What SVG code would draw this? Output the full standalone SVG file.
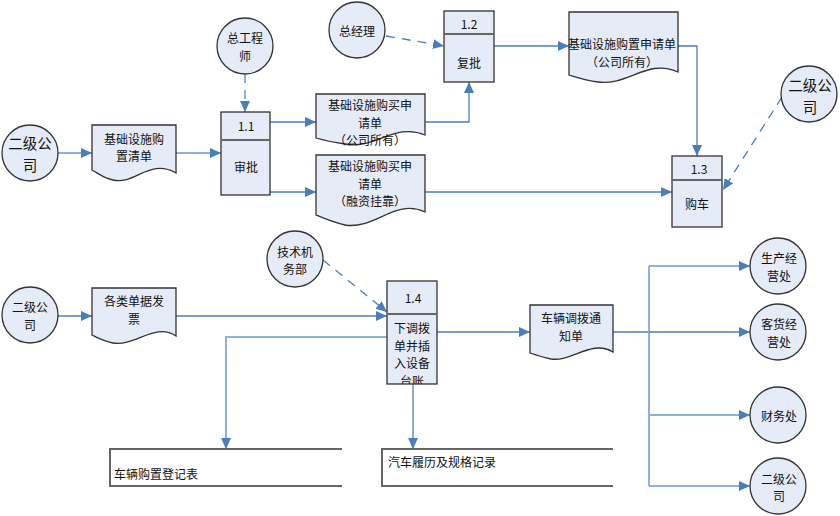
<svg xmlns="http://www.w3.org/2000/svg" width="840" height="516" viewBox="0 0 840 516">
<defs>
<style>
text{font-family:"SimSun","Noto Sans CJK SC","Liberation Sans",sans-serif;font-size:12px;fill:#111;text-anchor:middle;dominant-baseline:central}
.big{font-size:14.5px}
.shape{fill:#E6ECF7;stroke:#333;stroke-width:1.3}
.div{stroke:#666;stroke-width:2}
.ln{fill:none;stroke:#4A7EBB;stroke-width:1.3}
.lt{fill:none;stroke:#8DB0DD;stroke-width:2}
.ds{stroke-dasharray:9 7}
.store{fill:none;stroke:#666;stroke-width:2}
.lft{text-anchor:start}
</style>
<marker id="a" markerUnits="userSpaceOnUse" markerWidth="12" markerHeight="10" refX="11" refY="5" orient="auto">
<path d="M0,0 L11,5 L0,10 Z" fill="#4A7EBB"/>
</marker>
<clipPath id="c14"><rect x="387" y="315" width="50" height="69"/></clipPath>
</defs>

<g id="connectors">
<path class="lt" d="M58,153 H92" marker-end="url(#a)"/>
<path class="lt" d="M176,153 H221" marker-end="url(#a)"/>
<path class="lt ds" d="M245,74 V112" marker-end="url(#a)"/>
<path class="ln" d="M270,122 H316" marker-end="url(#a)"/>
<path class="ln" d="M270,192 H316" marker-end="url(#a)"/>
<path class="ln" d="M425,122 H469 V82" marker-end="url(#a)"/>
<path class="ln ds" d="M386,36 L444,46" marker-end="url(#a)"/>
<path class="ln" d="M494,46 H569" marker-end="url(#a)"/>
<path class="ln" d="M678,46 H697 V156" marker-end="url(#a)"/>
<path class="ln" d="M425,192 H672" marker-end="url(#a)"/>
<path class="ln ds" d="M782,97 L723,190" marker-end="url(#a)"/>
<path class="ln" d="M58,316 H92" marker-end="url(#a)"/>
<path class="ln" d="M176,316 H387" marker-end="url(#a)"/>
<path class="ln ds" d="M323,260 L387,312" marker-end="url(#a)"/>
<path class="lt" d="M387,337 H226 V449" marker-end="url(#a)"/>
<path class="ln" d="M413,384 V449" marker-end="url(#a)"/>
<path class="ln" d="M437,332 H530" marker-end="url(#a)"/>
<path class="ln" d="M613,332 H649"/>
<path class="lt" d="M649,266 V486"/>
<path class="lt" d="M649,266 H750" marker-end="url(#a)"/>
<path class="ln" d="M649,332 H750" marker-end="url(#a)"/>
<path class="lt" d="M649,415 H750" marker-end="url(#a)"/>
<path class="lt" d="M649,486 H750" marker-end="url(#a)"/>
</g>

<g id="ext-erji-1"><circle class="shape" cx="30" cy="153" r="28"/><text class="big"><tspan x="30" y="142">二级公</tspan><tspan x="30" y="163.5">司</tspan></text></g>
<g id="ext-zonggongchengshi"><circle class="shape" cx="245" cy="46" r="28"/><text><tspan x="245" y="37">总工程</tspan><tspan x="245" y="54.5">师</tspan></text></g>
<g id="ext-zongjingli"><circle class="shape" cx="357" cy="30" r="28"/><text x="357" y="30">总经理</text></g>
<g id="ext-erji-2"><circle class="shape" cx="809" cy="94" r="28"/><text class="big"><tspan x="810" y="84">二级公</tspan><tspan x="810" y="105.5">司</tspan></text></g>
<g id="ext-erji-3"><circle class="shape" cx="30" cy="315" r="28"/><text><tspan x="30" y="306">二级公</tspan><tspan x="30" y="324">司</tspan></text></g>
<g id="ext-jishu"><circle class="shape" cx="295" cy="259" r="28"/><text><tspan x="295" y="250.5">技术机</tspan><tspan x="295" y="268">务部</tspan></text></g>
<g id="ext-shengchan"><circle class="shape" cx="778" cy="266" r="28"/><text><tspan x="779" y="257">生产经</tspan><tspan x="779" y="274.5">营处</tspan></text></g>
<g id="ext-kehuo"><circle class="shape" cx="778" cy="332" r="28"/><text><tspan x="779" y="323">客货经</tspan><tspan x="779" y="340.5">营处</tspan></text></g>
<g id="ext-caiwu"><circle class="shape" cx="778" cy="415" r="28"/><text x="779" y="415">财务处</text></g>
<g id="ext-erji-4"><circle class="shape" cx="778" cy="486" r="28"/><text><tspan x="779" y="477.5">二级公</tspan><tspan x="779" y="495">司</tspan></text></g>

<g id="doc-qingdan"><path class="shape" d="M92,125 H176 V173 C150,158 135,185 113,180 C103,178 98,173 92,170 Z"/><text><tspan x="134" y="137.5">基础设施购</tspan><tspan x="134" y="155">置清单</tspan></text></g>

<g id="proc-1-1"><rect class="shape" x="221" y="112" width="49" height="83"/><line class="div" x1="221" y1="140" x2="270" y2="140"/><text x="246" y="125">1.1</text><text x="246" y="166">审批</text></g>

<g id="doc-goumai-gongsi"><path class="shape" d="M316,94 H425 V135 C395,122 375,150 345,144 C332,142 323,140 316,138 Z"/><text><tspan x="370" y="104">基础设施购买申</tspan><tspan x="370" y="121.5">请单</tspan><tspan x="370" y="139">（公司所有）</tspan></text></g>

<g id="doc-goumai-rongzi"><path class="shape" d="M316,155 H425 V212 C395,198 375,230 345,225 C332,222 323,218 316,215 Z"/><text><tspan x="370" y="165">基础设施购买申</tspan><tspan x="370" y="182.5">请单</tspan><tspan x="370" y="200">（融资挂靠）</tspan></text></g>

<g id="proc-1-2"><rect class="shape" x="444" y="11" width="50" height="71"/><line class="div" x1="444" y1="34" x2="494" y2="34"/><text x="469" y="23">1.2</text><text x="469" y="62">复批</text></g>

<g id="doc-gouzhi-gongsi"><path class="shape" d="M569,12 H678 V72 C648,58 628,86 598,82 C585,80 576,77 569,75 Z"/><text><tspan x="622" y="43">基础设施购置申请单</tspan><tspan x="622" y="60.5">（公司所有）</tspan></text></g>

<g id="proc-1-3"><rect class="shape" x="672" y="156" width="50" height="71"/><line class="div" x1="672" y1="180" x2="722" y2="180"/><text x="699" y="168">1.3</text><text x="697" y="203">购车</text></g>

<g id="doc-danju"><path class="shape" d="M92,288 H176 V336 C155,322 135,347 113,343 C103,341 98,338 92,335 Z"/><text><tspan x="134" y="300">各类单据发</tspan><tspan x="134" y="317.5">票</tspan></text></g>

<g id="proc-1-4"><rect class="shape" x="387" y="281" width="50" height="103"/><line class="div" x1="387" y1="314" x2="437" y2="314"/><text x="413" y="297">1.4</text><text clip-path="url(#c14)"><tspan x="412" y="327">下调拨</tspan><tspan x="412" y="344.5">单并插</tspan><tspan x="412" y="362">入设备</tspan><tspan x="412" y="379.5">台账</tspan></text></g>

<g id="doc-tongzhi"><path class="shape" d="M530,305 H613 V352 C592,339 572,362 551,359 C542,357 536,355 530,353 Z"/><text><tspan x="571" y="317">车辆调拨通</tspan><tspan x="571" y="334.5">知单</tspan></text></g>

<g id="store-gouzhi"><path class="store" d="M342,449 H110 V486 H342"/><text class="lft" x="114" y="473">车辆购置登记表</text></g>
<g id="store-lvli"><path class="store" d="M613,449 H382 V486 H613"/><text class="lft" x="388" y="461">汽车履历及规格记录</text></g>
</svg>
